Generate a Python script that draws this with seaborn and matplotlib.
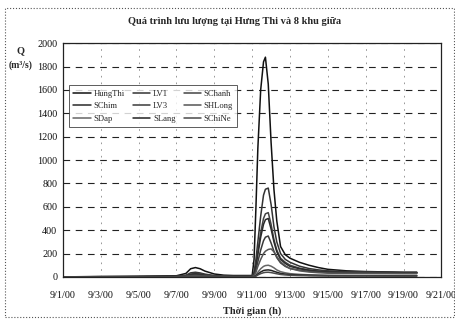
import pandas as pd
import matplotlib
matplotlib.use("Agg")
import matplotlib.pyplot as plt
import matplotlib.dates as mdates
from matplotlib.ticker import FuncFormatter, MultipleLocator
from matplotlib.patches import Rectangle
import seaborn as sns

# time in days since 9/1/2000 00:00
days = [0, 1, 2, 3, 4, 5, 6, 6.5, 6.75, 7.0, 7.25, 7.5, 8.0, 8.5, 9.0, 10.0,
        10.1, 10.2, 10.3, 10.45, 10.6, 10.7, 10.85, 11.0, 11.15, 11.3, 11.5,
        11.75, 12.0, 12.5, 13.0, 13.5, 14.0, 15.0, 16.0, 17.0, 18.0, 18.7]

names = ["HungThi", "LV1", "SChanh", "SChim", "LV3", "SHLong", "SDap", "SLang", "SChiNe"]

hungthi = [0, 2, 4, 5, 6, 8, 10, 30, 70, 80, 70, 50, 25, 15, 12, 12,
           150, 600, 1100, 1600, 1840, 1880, 1650, 1150, 750, 480, 260,
           190, 160, 125, 100, 80, 65, 52, 46, 43, 40, 40]
lv1 = [0, 1, 2, 2, 3, 4, 5, 15, 35, 40, 34, 24, 12, 8, 6, 6,
       40, 150, 300, 520, 700, 750, 760, 620, 430, 300, 200,
       150, 125, 92, 72, 60, 52, 46, 42, 40, 38, 38]
schanh = [0, 1, 1, 2, 2, 3, 4, 10, 25, 30, 26, 18, 9, 6, 5, 5,
          30, 110, 220, 380, 500, 540, 550, 450, 320, 230, 160,
          125, 100, 75, 60, 50, 45, 42, 40, 38, 36, 36]
schim = [0, 1, 1, 1, 2, 2, 3, 8, 20, 25, 21, 14, 7, 5, 4, 4,
         25, 95, 190, 340, 450, 490, 500, 410, 300, 215, 150,
         115, 90, 70, 56, 48, 42, 40, 38, 36, 35, 35]
lv3 = [0, 0, 1, 1, 1, 2, 2, 6, 15, 18, 15, 10, 6, 4, 3, 3,
       15, 60, 130, 230, 310, 340, 350, 290, 220, 165, 120,
       90, 72, 58, 48, 42, 38, 36, 35, 34, 33, 33]
shlong = [0, 0, 1, 1, 1, 1, 2, 4, 8, 10, 8, 6, 4, 3, 2, 2,
          10, 40, 90, 150, 200, 220, 235, 240, 215, 175, 130,
          95, 72, 52, 42, 36, 32, 30, 30, 29, 28, 28]
sdap = [0, 0, 0, 0, 1, 1, 1, 2, 4, 5, 4, 3, 2, 2, 1, 1,
        5, 18, 40, 70, 90, 97, 100, 92, 78, 60, 45,
        35, 28, 22, 18, 16, 14, 13, 13, 12, 12, 12]
slang = [0, 0, 0, 0, 0, 1, 1, 1, 3, 3, 3, 2, 1, 1, 1, 1,
         3, 10, 24, 42, 55, 58, 60, 56, 48, 40, 30,
         24, 20, 16, 14, 12, 11, 10, 10, 10, 9, 9]
schine = [0, 0, 0, 0, 0, 0, 1, 1, 2, 2, 2, 1, 1, 1, 1, 1,
          2, 7, 16, 28, 36, 39, 40, 37, 32, 27, 21,
          17, 14, 12, 10, 9, 8, 8, 8, 7, 7, 7]

series = [hungthi, lv1, schanh, schim, lv3, shlong, sdap, slang, schine]
colors = ["#111111", "#333333", "#444444", "#2a2a2a", "#3a3a3a", "#555555", "#666666", "#222222", "#4a4a4a"]

start = pd.Timestamp("2000-09-01")
times = [start + pd.Timedelta(days=d) for d in days]

sns.set_theme(style="white")
plt.rcParams["font.family"] = ["Liberation Serif", "DejaVu Serif"]

fig = plt.figure(figsize=(4.56, 3.22), dpi=100)
ax = fig.add_axes([0.138, 0.14, 0.83, 0.726])

for name, vals, c in zip(names, series, colors):
    sns.lineplot(x=times, y=vals, ax=ax, label=name, color=c, linewidth=1.1)

ax.set_xlim(start, start + pd.Timedelta(days=20))
ax.set_ylim(0, 2000)
ax.yaxis.set_major_locator(MultipleLocator(200))
ax.xaxis.set_major_locator(mdates.DayLocator(interval=2))
ax.xaxis.set_major_formatter(FuncFormatter(
    lambda v, p: "{}/{}/{:%y}".format(mdates.num2date(v).month, mdates.num2date(v).day, mdates.num2date(v))))

ax.grid(axis="y", color="#222222", linestyle=(0, (6, 5)), linewidth=0.8)
ax.grid(axis="x", color="#888888", linestyle=(0, (2, 6)), linewidth=0.6)
for s in ax.spines.values():
    s.set_color("#222222")
    s.set_linewidth(0.9)
ax.tick_params(axis="both", labelsize=7.3, length=2, pad=2, colors="#111111")
ax.tick_params(axis="x", pad=8)

ax.set_xlabel("Thời gian (h)", fontsize=7.5, fontweight="bold", labelpad=5)
ax.set_ylabel("")
fig.text(0.045, 0.835, "Q", fontsize=7.5, fontweight="bold", ha="center")
fig.text(0.045, 0.79, "(m³/s)", fontsize=7, fontweight="bold", ha="center")
fig.text(0.515, 0.925, "Quá trình lưu lượng tại Hưng Thi và 8 khu giữa",
         fontsize=7.5, fontweight="bold", ha="center")

h, l = ax.get_legend_handles_labels()
order = [0, 3, 6, 1, 4, 7, 2, 5, 8]
leg = ax.legend([h[i] for i in order], [l[i] for i in order], ncol=3,
                loc="upper left", bbox_to_anchor=(0.005, 0.838), fontsize=6.2,
                frameon=True, fancybox=False, edgecolor="#333333",
                handlelength=2.0, columnspacing=1.0, labelspacing=0.55,
                borderpad=0.5, handletextpad=0.3)
leg.get_frame().set_linewidth(0.7)

fig.patches.append(Rectangle((0.01, 0.015), 0.985, 0.96, transform=fig.transFigure,
                             fill=False, edgecolor="#555555", linestyle=":", linewidth=0.8))

fig.savefig("out.png", dpi=100)
